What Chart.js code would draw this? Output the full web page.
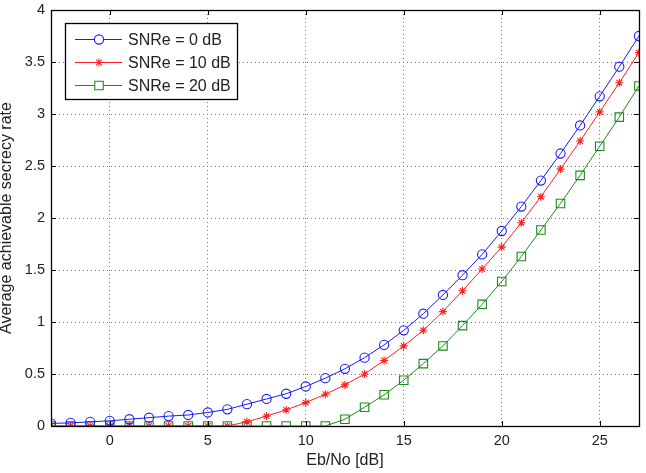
<!DOCTYPE html>
<html><head><meta charset="utf-8">
<script src="https://cdn.jsdelivr.net/npm/chart.js@4/dist/chart.umd.min.js"></script>
<style>html,body{margin:0;padding:0;background:#fff}#wrap{width:646px;height:473px}</style>
</head><body><div id="wrap"><canvas id="c" width="646" height="473"></canvas></div>
<script>
const ebno = [-3,-2,-1,0,1,2,3,4,5,6,7,8,9,10,11,12,13,14,15,16,17,18,19,20,21,22,23,24,25,26,27];
const snre0 = [0.025,0.03,0.04,0.05,0.065,0.08,0.095,0.106,0.13,0.16,0.21,0.26,0.31,0.38,0.46,0.55,0.657,0.78,0.92,1.08,1.26,1.45,1.65,1.875,2.11,2.36,2.62,2.89,3.17,3.455,3.75];
const snre10 = [0,0,0,0,0,0,0,0,0,0,0.04,0.095,0.155,0.225,0.305,0.395,0.50,0.63,0.77,0.92,1.10,1.30,1.51,1.72,1.955,2.205,2.47,2.74,3.02,3.30,3.59];
const snre20 = [0,0,0,0,0,0,0,0,0,0,0,0,0,0,0,0.065,0.18,0.30,0.44,0.60,0.77,0.965,1.17,1.39,1.63,1.885,2.14,2.41,2.69,2.97,3.27];
const seriesNames = ['SNRe = 0 dB','SNRe = 10 dB','SNRe = 20 dB'];
const xTicks = [0,5,10,15,20,25];
const yTicks = [0,0.5,1,1.5,2,2.5,3,3.5,4];
const FONT = 'Helvetica, "Liberation Sans", Arial, sans-serif';
const colors = ['#1a1aff','#ff2020','#1a8c1a'];
const styles = ['circle','star','rect'];
const radii = [4.6,4,6];

function mk(vals){ return ebno.map((x,i)=>({x:x,y:vals[i]})); }
const datasets = [snre0,snre10,snre20].map((v,i)=>({
  label: seriesNames[i], data: mk(v), borderColor: colors[i], backgroundColor:'rgba(0,0,0,0)',
  pointBorderColor: colors[i], pointBackgroundColor:'rgba(0,0,0,0)', pointStyle: styles[i],
  pointRadius: radii[i], pointBorderWidth: 1.1, borderWidth: 1, tension: 0
}));

const framePlugin = {
  id:'frame',
  afterDraw(chart){
    const ctx=chart.ctx, a=chart.chartArea, xs=chart.scales.x, ys=chart.scales.y;
    ctx.save();
    ctx.strokeStyle='#000'; ctx.lineWidth=1;
    ctx.beginPath();
    xTicks.forEach(t=>{const p=Math.round(xs.getPixelForValue(t))+0.5;
      ctx.moveTo(p,a.bottom); ctx.lineTo(p,a.bottom-5); ctx.moveTo(p,a.top); ctx.lineTo(p,a.top+5);});
    yTicks.forEach(t=>{const p=Math.round(ys.getPixelForValue(t))+0.5;
      ctx.moveTo(a.left,p); ctx.lineTo(a.left+5,p); ctx.moveTo(a.right,p); ctx.lineTo(a.right-5,p);});
    ctx.stroke();
    ctx.lineWidth=1.3;
    ctx.strokeRect(Math.round(a.left)+0.5, Math.round(a.top)+0.5, Math.round(a.right-a.left), Math.round(a.bottom-a.top));
    // legend
    const lx=65, ly=23, lw=172, lh=76;
    ctx.fillStyle='#fff'; ctx.fillRect(lx,ly,lw,lh);
    ctx.strokeStyle='#000'; ctx.lineWidth=1.3; ctx.strokeRect(lx+0.5,ly+0.5,lw,lh);
    ctx.font='16px '+FONT; ctx.textBaseline='middle'; ctx.textAlign='left';
    const rows=[39,62,85];
    chart.data.datasets.forEach((d,i)=>{
      const y=rows[i]+0.5;
      ctx.strokeStyle=colors[i]; ctx.lineWidth=1;
      ctx.beginPath(); ctx.moveTo(75,y); ctx.lineTo(122,y); ctx.stroke();
      ctx.save(); ctx.strokeStyle=colors[i]; ctx.fillStyle='#fff'; ctx.lineWidth=1.1;
      Chart.helpers.drawPoint(ctx,{pointStyle:styles[i],radius:radii[i],borderWidth:1.1,rotation:0},99,y);
      ctx.restore();
      ctx.fillStyle='#222'; ctx.fillText(d.label,128,y+1);
    });
    ctx.restore();
  }
};

new Chart(document.getElementById('c'),{
  type:'line',
  data:{datasets},
  options:{
    responsive:false, animation:false, devicePixelRatio:1,
    layout:{padding:{top:10,right:7,left:0,bottom:0}},
    plugins:{legend:{display:false},tooltip:{enabled:false}},
    scales:{
      x:{type:'linear',min:-3,max:27,
        afterBuildTicks(s){ s.ticks = xTicks.map(v=>({value:v})); },
        afterFit(s){ s.height=47; s.paddingLeft=0; s.paddingRight=0; },
        border:{display:false,dash:[1,3]},
        grid:{color:'#777',drawTicks:false,lineWidth:1},
        ticks:{font:{family:FONT,size:14.5,lineHeight:1},color:'#222',padding:8,maxRotation:0},
        title:{display:true,text:'Eb/No [dB]',font:{family:FONT,size:16,lineHeight:1},color:'#222',padding:{top:0,bottom:4}}
      },
      y:{type:'linear',min:0,max:4,
        afterBuildTicks(s){ s.ticks = yTicks.map(v=>({value:v})); },
        afterFit(s){ s.width=51; s.paddingTop=0; s.paddingBottom=0; },
        border:{display:false,dash:[1,3]},
        grid:{color:'#777',drawTicks:false,lineWidth:1},
        ticks:{font:{family:FONT,size:14.5,lineHeight:1},color:'#222',padding:6,callback:v=>String(v)},
        title:{display:true,text:'Average achievable secrecy rate',font:{family:FONT,size:16,lineHeight:1},color:'#222',padding:{top:-1,bottom:0}}
      }
    }
  },
  plugins:[framePlugin]
});
</script></body></html>
